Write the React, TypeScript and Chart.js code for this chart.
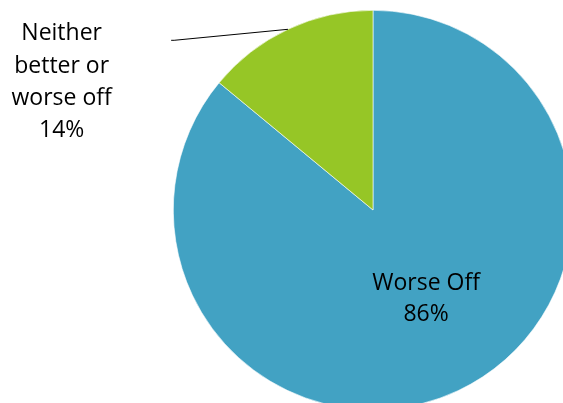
import React, { useEffect, useRef } from "react";
import { Chart, registerables } from "chart.js";

Chart.register(...registerables);

const categories: string[] = ["Worse Off", "Neither better or worse off"];
const values: number[] = [86, 14];
const colors: string[] = ["#42A2C3", "#96C626"];
const labelLines: string[][] = [
  ["Worse Off", "86%"],
  ["Neither", "better or", "worse off", "14%"],
];

const FONT = "23px 'Open Sans', sans-serif";

const labelPlugin = {
  id: "pieLabels",
  afterDatasetsDraw(chart: any) {
    const ctx = chart.ctx;
    const meta = chart.getDatasetMeta(0);
    ctx.save();
    ctx.font = FONT;
    ctx.fillStyle = "#000";
    ctx.textAlign = "center";
    ctx.textBaseline = "alphabetic";
    meta.data.forEach((arc: any, i: number) => {
      const { x, y, startAngle, endAngle, outerRadius } = arc.getProps(
        ["x", "y", "startAngle", "endAngle", "outerRadius"],
        true
      );
      const mid = (startAngle + endAngle) / 2;
      const lines = labelLines[i];
      if (i === 0) {
        // inside label
        const a = mid - 0.108;
        const r = outerRadius * 0.51;
        const cx = x + Math.cos(a) * r;
        const cy = y + Math.sin(a) * r;
        lines.forEach((t, k) => {
          ctx.fillText(t, cx, cy - 7 + k * 31);
        });
      } else {
        // outside label with leader line
        const ex = x + Math.cos(mid) * outerRadius;
        const ey = y + Math.sin(mid) * outerRadius;
        const lx = ex - outerRadius * 0.585;
        const ly = ey + 11;
        ctx.strokeStyle = "#000";
        ctx.lineWidth = 1;
        ctx.beginPath();
        ctx.moveTo(ex, ey);
        ctx.lineTo(lx + 3, ly);
        ctx.lineTo(lx, ly);
        ctx.stroke();
        const tx = lx - 109.5;
        const ty0 = ly;
        lines.forEach((t, k) => {
          ctx.fillText(t, tx, ty0 + k * 32.3);
        });
      }
    });
    ctx.restore();
  },
};

export default function App() {
  const ref = useRef<HTMLCanvasElement | null>(null);
  useEffect(() => {
    if (!ref.current) return;
    const chart = new Chart(ref.current, {
      type: "pie",
      data: {
        labels: categories,
        datasets: [
          {
            data: values,
            backgroundColor: colors,
            borderColor: "#ffffff",
            borderWidth: 0.6,
          },
        ],
      },
      options: {
        responsive: false,
        animation: false,
        layout: { padding: { left: 173, top: 10, right: 27, bottom: 10 } },
        plugins: {
          legend: { display: false },
          tooltip: { enabled: false },
        },
      },
      plugins: [labelPlugin],
    });
    return () => chart.destroy();
  }, []);
  return (
    <div
      style={{
        position: "fixed",
        left: 0,
        top: 0,
        width: 563,
        height: 403,
        overflow: "hidden",
        background: "#fff",
      }}
    >
      <canvas
        ref={ref}
        width={600}
        height={420}
        style={{ position: "absolute", left: 0, top: 0, width: 600, height: 420 }}
      />
    </div>
  );
}
